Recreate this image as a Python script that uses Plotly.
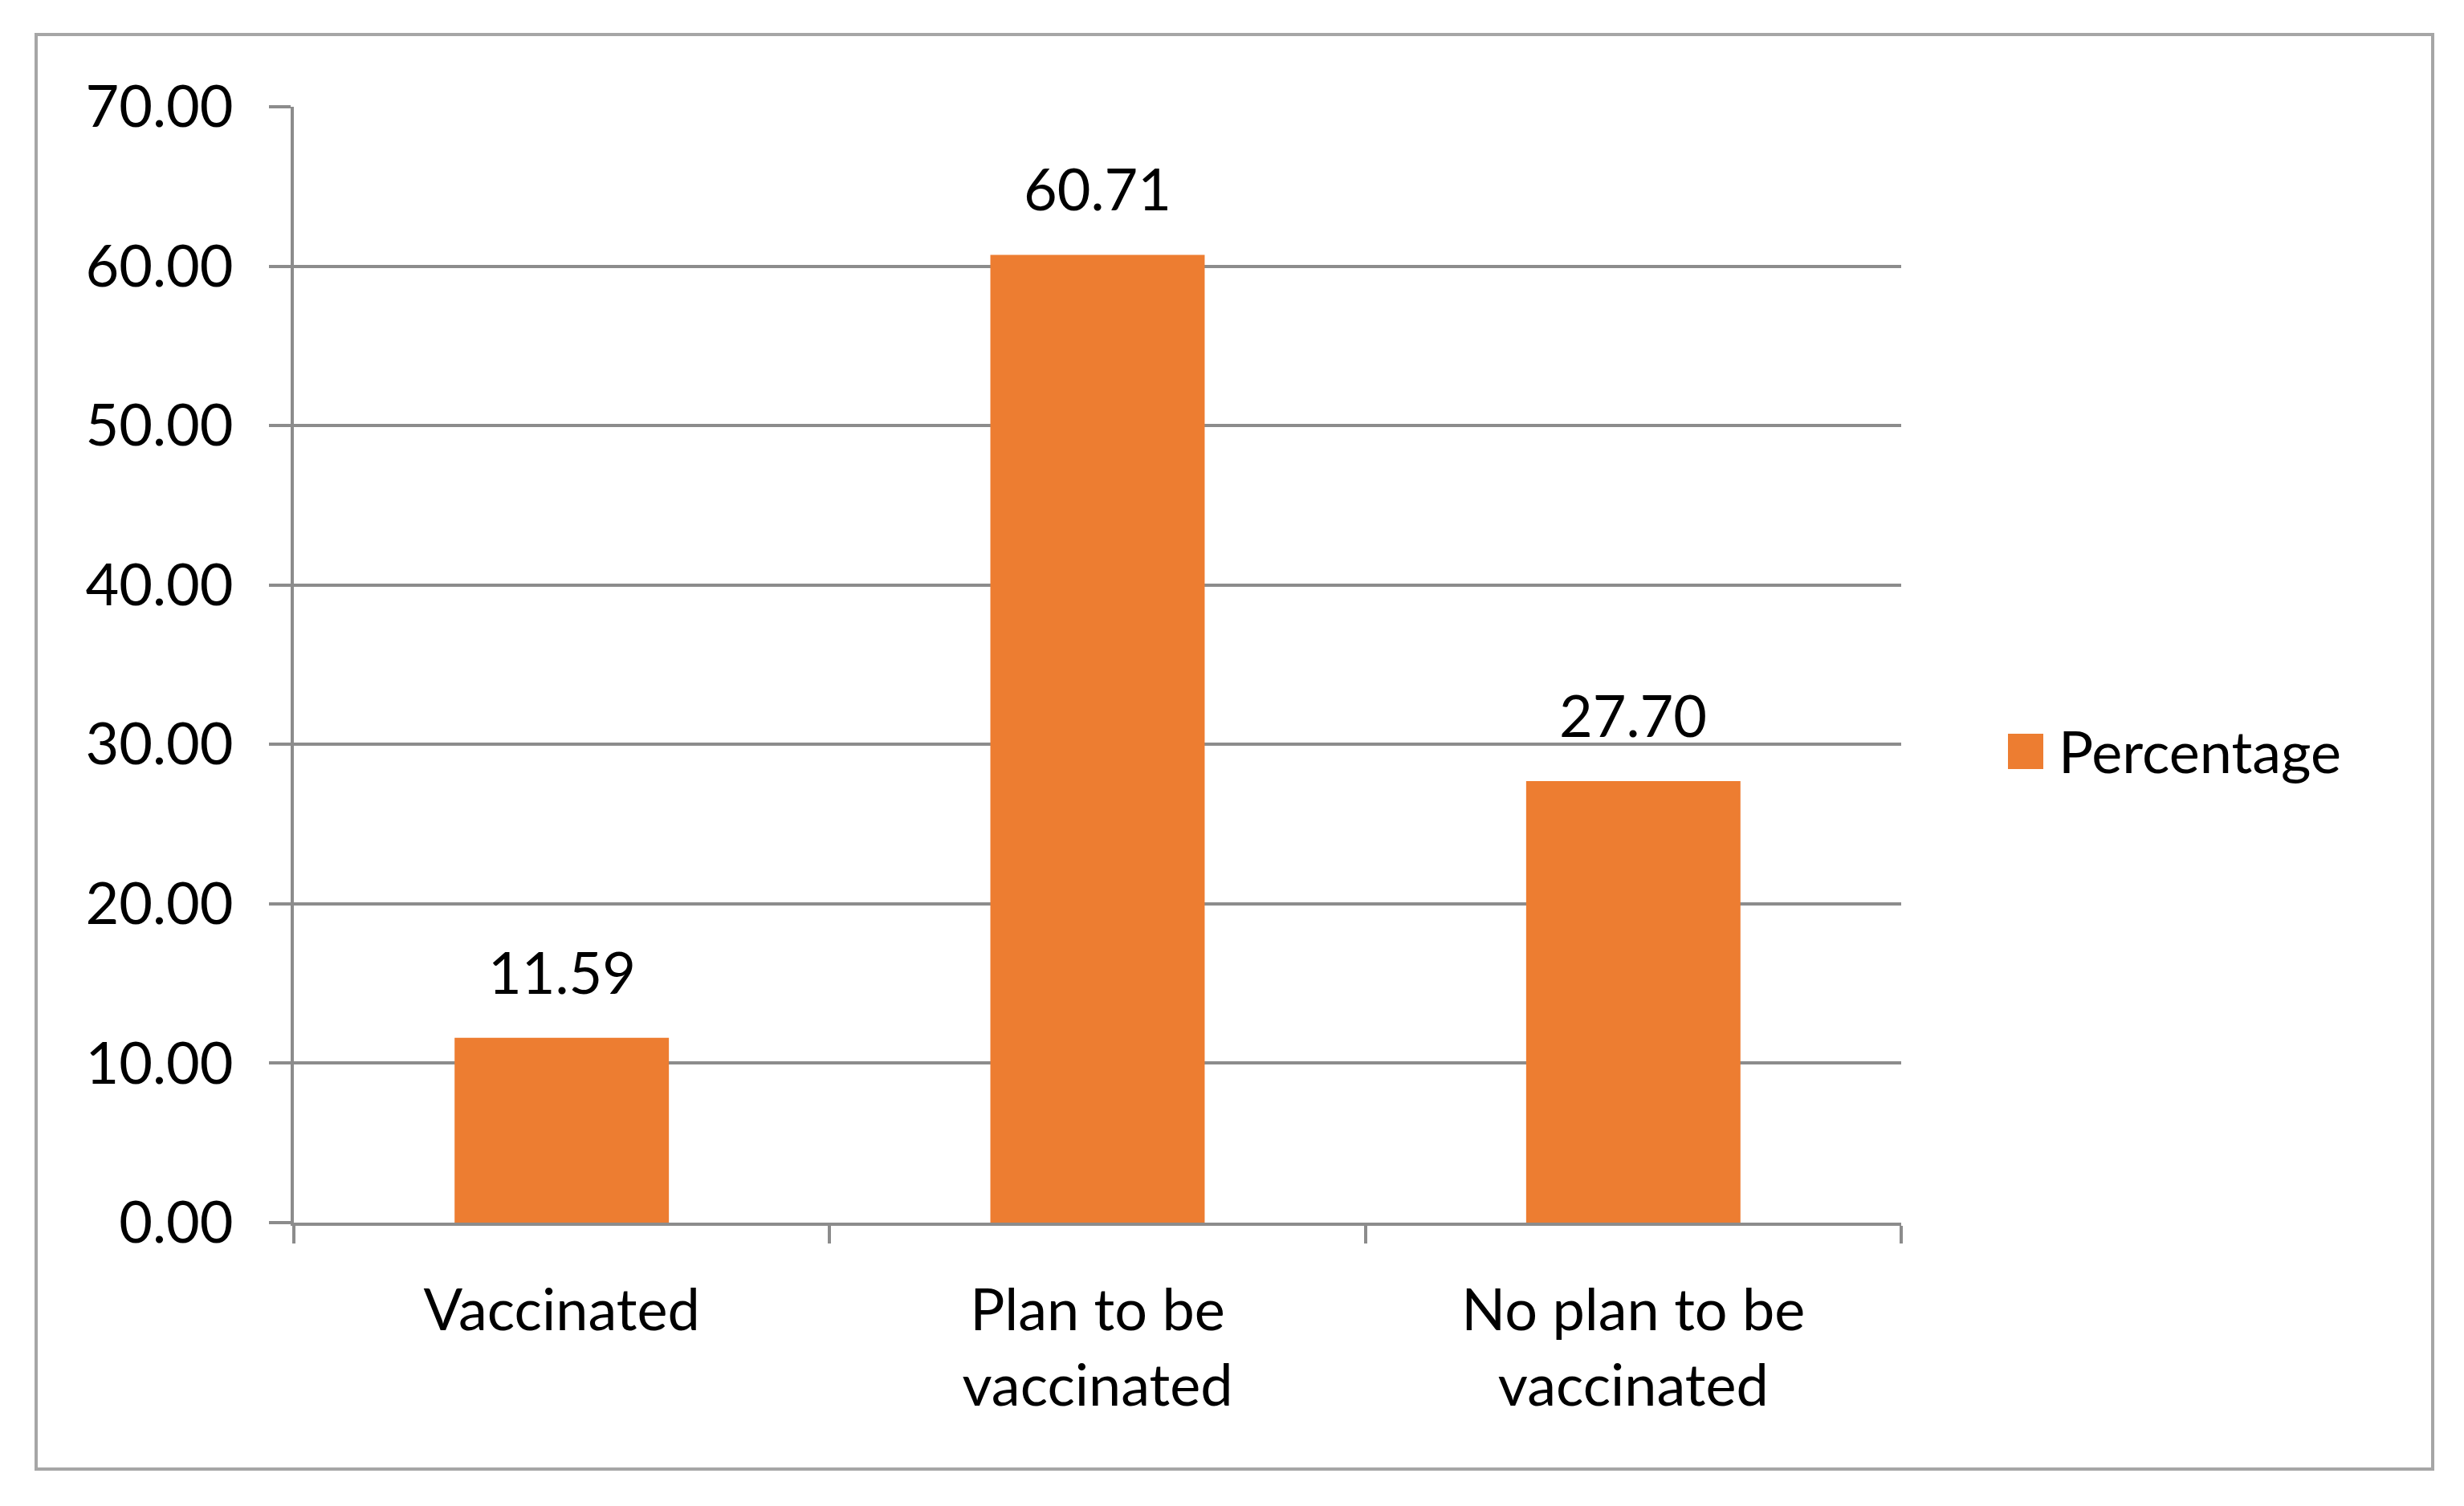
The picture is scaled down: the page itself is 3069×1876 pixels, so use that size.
import plotly.graph_objects as go

# Data
categories = ['Vaccinated', 'Plan to be<br>vaccinated', 'No plan to be<br>vaccinated']
percentages = [11.59, 60.71, 27.70]
series_name = 'Percentage'

BAR_COLOR = '#ED7D31'
GRID_COLOR = '#8C8C8C'
FONT = 'Lato'

W, H = 3069, 1876
# the page body adds an 8px margin, so pull everything back by that much
PAD = 8
L, R, T, B = 366 - PAD, 701 + PAD, 133 - PAD, 353 + PAD


def px_x(x):
    """page x pixel -> paper coordinate"""
    return (x - PAD - L) / (W - L - R)


def px_y(y):
    """page y pixel -> paper coordinate"""
    return (H - B - (y - PAD)) / (H - T - B)


fig = go.Figure(go.Bar(
    x=categories,
    y=percentages,
    name=series_name,
    marker=dict(color=BAR_COLOR, line=dict(width=0)),
    hoverinfo='x+y',
))

# value labels above the bars
for cat, val in zip(categories, percentages):
    fig.add_annotation(
        x=cat, y=val, text=f'{val:.2f}', showarrow=False,
        yanchor='bottom', yshift=38,
        font=dict(family=FONT, size=72, color='#000000'),
    )

# outer chart border
fig.add_shape(
    type='rect', xref='paper', yref='paper',
    x0=px_x(45), x1=px_x(3030), y0=px_y(1830), y1=px_y(43),
    line=dict(color='#A6A6A6', width=4), fillcolor='rgba(0,0,0,0)',
    layer='below',
)

# legend drawn by hand so the swatch matches the text size
fig.add_shape(
    type='rect', xref='paper', yref='paper',
    x0=px_x(2501), x1=px_x(2545), y0=px_y(958), y1=px_y(914),
    line=dict(width=0), fillcolor=BAR_COLOR,
)
fig.add_annotation(
    xref='paper', yref='paper', x=px_x(2562), y=px_y(935),
    xanchor='left', yanchor='middle', text=series_name, showarrow=False,
    font=dict(family=FONT, size=72, color='#000000'),
)

fig.update_layout(
    width=W, height=H,
    margin=dict(l=L, r=R, t=T, b=B, autoexpand=False),
    plot_bgcolor='white', paper_bgcolor='white',
    showlegend=False,
    bargap=0.6,
    font=dict(family=FONT, size=72, color='#000000'),
    xaxis=dict(
        showgrid=False, showline=True, linecolor=GRID_COLOR, linewidth=4,
        ticks='outside', tickson='boundaries', ticklen=22, tickwidth=4,
        tickcolor=GRID_COLOR, ticklabelstandoff=44,
        tickfont=dict(family=FONT, size=72, color='#000000'),
    ),
    yaxis=dict(
        range=[0, 70], dtick=10, tickformat='.2f',
        showgrid=True, gridcolor=GRID_COLOR, gridwidth=4,
        showline=True, linecolor=GRID_COLOR, linewidth=4,
        ticks='outside', ticklen=27, tickwidth=4, tickcolor=GRID_COLOR,
        ticklabelstandoff=30, zeroline=False,
        tickfont=dict(family=FONT, size=72, color='#000000'),
    ),
)

fig.write_html('out.html')
